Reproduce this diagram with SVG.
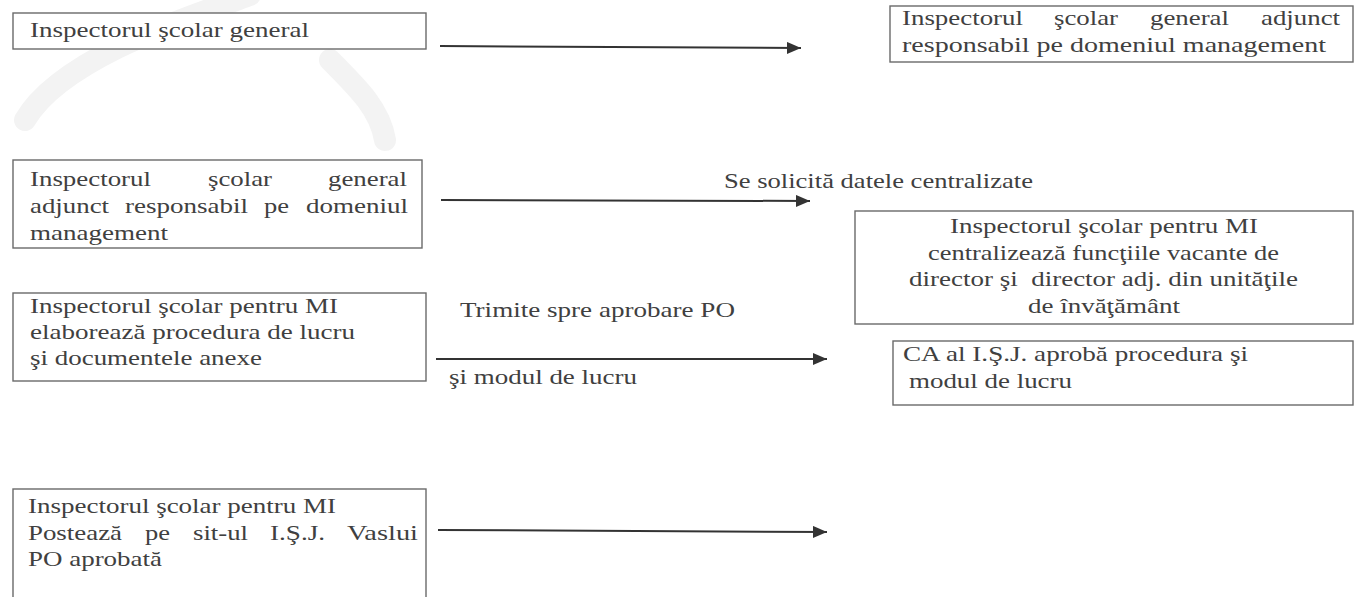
<svg xmlns="http://www.w3.org/2000/svg" width="1361" height="597" viewBox="0 0 1361 597">
<defs>
<style>
.box{fill:#fff;stroke:#6a6a6a;stroke-width:1.4}
.t{font-family:"Liberation Serif","Times New Roman",serif;font-size:21px;fill:#404040}
.c{stroke:#333;stroke-width:2;fill:none}
</style>
<marker id="ah" markerUnits="userSpaceOnUse" markerWidth="16" markerHeight="12" refX="14" refY="6" orient="auto">
<path d="M0,0 L14,6 L0,12 Z" fill="#333"/>
</marker>
</defs>
<rect width="1361" height="597" fill="#fff"/>
<g id="watermark" fill="none" stroke="#f3f3f3" stroke-width="22" stroke-linecap="round">
<path d="M250,-5 C180,20 60,60 25,120"/>
<path d="M330,60 C360,90 380,110 385,140"/>
</g>
<g id="n1"><rect class="box" x="13" y="13" width="413" height="36"/>
<text class="t" x="30" y="37" textLength="279" lengthAdjust="spacingAndGlyphs">Inspectorul şcolar general</text></g>
<g id="n2"><rect class="box" x="890" y="6" width="463" height="56"/>
<text class="t" x="902" y="25" textLength="121" lengthAdjust="spacingAndGlyphs">Inspectorul</text>
<text class="t" x="1054" y="25" textLength="64" lengthAdjust="spacingAndGlyphs">şcolar</text>
<text class="t" x="1150" y="25" textLength="79" lengthAdjust="spacingAndGlyphs">general</text>
<text class="t" x="1261" y="25" textLength="79" lengthAdjust="spacingAndGlyphs">adjunct</text>
<text class="t" x="902" y="52" textLength="424" lengthAdjust="spacingAndGlyphs">responsabil pe domeniul management</text></g>
<g id="n3"><rect class="box" x="13" y="160" width="409" height="88"/>
<text class="t" x="30" y="186" textLength="121" lengthAdjust="spacingAndGlyphs">Inspectorul</text>
<text class="t" x="208" y="186" textLength="64" lengthAdjust="spacingAndGlyphs">şcolar</text>
<text class="t" x="328" y="186" textLength="79" lengthAdjust="spacingAndGlyphs">general</text>
<text class="t" x="30" y="213" textLength="79" lengthAdjust="spacingAndGlyphs">adjunct</text>
<text class="t" x="125" y="213" textLength="123" lengthAdjust="spacingAndGlyphs">responsabil</text>
<text class="t" x="264" y="213" textLength="25" lengthAdjust="spacingAndGlyphs">pe</text>
<text class="t" x="306" y="213" textLength="102" lengthAdjust="spacingAndGlyphs">domeniul</text>
<text class="t" x="30" y="240" textLength="138" lengthAdjust="spacingAndGlyphs">management</text></g>
<g id="n4"><rect class="box" x="855" y="211" width="498" height="113"/>
<text class="t" x="950" y="233" textLength="308" lengthAdjust="spacingAndGlyphs">Inspectorul şcolar pentru MI</text>
<text class="t" x="928" y="260" textLength="351" lengthAdjust="spacingAndGlyphs">centralizează funcţiile vacante de</text>
<text class="t" x="909" y="286" textLength="389" lengthAdjust="spacingAndGlyphs" xml:space="preserve">director şi  director adj. din unităţile</text>
<text class="t" x="1028" y="313" textLength="152" lengthAdjust="spacingAndGlyphs">de învăţământ</text></g>
<g id="n5"><rect class="box" x="13" y="293" width="413" height="88"/>
<text class="t" x="30" y="313" textLength="308" lengthAdjust="spacingAndGlyphs">Inspectorul şcolar pentru MI</text>
<text class="t" x="30" y="339" textLength="325" lengthAdjust="spacingAndGlyphs">elaborează procedura de lucru</text>
<text class="t" x="30" y="365" textLength="232" lengthAdjust="spacingAndGlyphs">şi documentele anexe</text></g>
<g id="n6"><rect class="box" x="893" y="341" width="460" height="64"/>
<text class="t" x="903" y="361" textLength="345" lengthAdjust="spacingAndGlyphs">CA al I.Ş.J. aprobă procedura şi</text>
<text class="t" x="909" y="388" textLength="163" lengthAdjust="spacingAndGlyphs">modul de lucru</text></g>
<g id="n7"><rect class="box" x="13" y="489" width="413" height="130"/>
<text class="t" x="28" y="513" textLength="308" lengthAdjust="spacingAndGlyphs">Inspectorul şcolar pentru MI</text>
<text class="t" x="28" y="540" textLength="94" lengthAdjust="spacingAndGlyphs">Postează</text>
<text class="t" x="145" y="540" textLength="25" lengthAdjust="spacingAndGlyphs">pe</text>
<text class="t" x="193" y="540" textLength="55" lengthAdjust="spacingAndGlyphs">sit-ul</text>
<text class="t" x="270" y="540" textLength="55" lengthAdjust="spacingAndGlyphs">I.Ş.J.</text>
<text class="t" x="347" y="540" textLength="71" lengthAdjust="spacingAndGlyphs">Vaslui</text>
<text class="t" x="28" y="566" textLength="134" lengthAdjust="spacingAndGlyphs">PO aprobată</text></g>
<g id="connectors">
<line class="c" x1="440" y1="46" x2="801" y2="48" marker-end="url(#ah)"/>
<line class="c" x1="441" y1="200" x2="810" y2="201" marker-end="url(#ah)"/>
<line class="c" x1="436" y1="359" x2="827" y2="359" marker-end="url(#ah)"/>
<line class="c" x1="438" y1="530" x2="827" y2="532" marker-end="url(#ah)"/>
<text class="t" x="724" y="188" textLength="309" lengthAdjust="spacingAndGlyphs">Se solicită datele centralizate</text>
<text class="t" x="460" y="317" textLength="275" lengthAdjust="spacingAndGlyphs">Trimite spre aprobare PO</text>
<text class="t" x="449" y="384" textLength="188" lengthAdjust="spacingAndGlyphs">şi modul de lucru</text>
</g>
</svg>
